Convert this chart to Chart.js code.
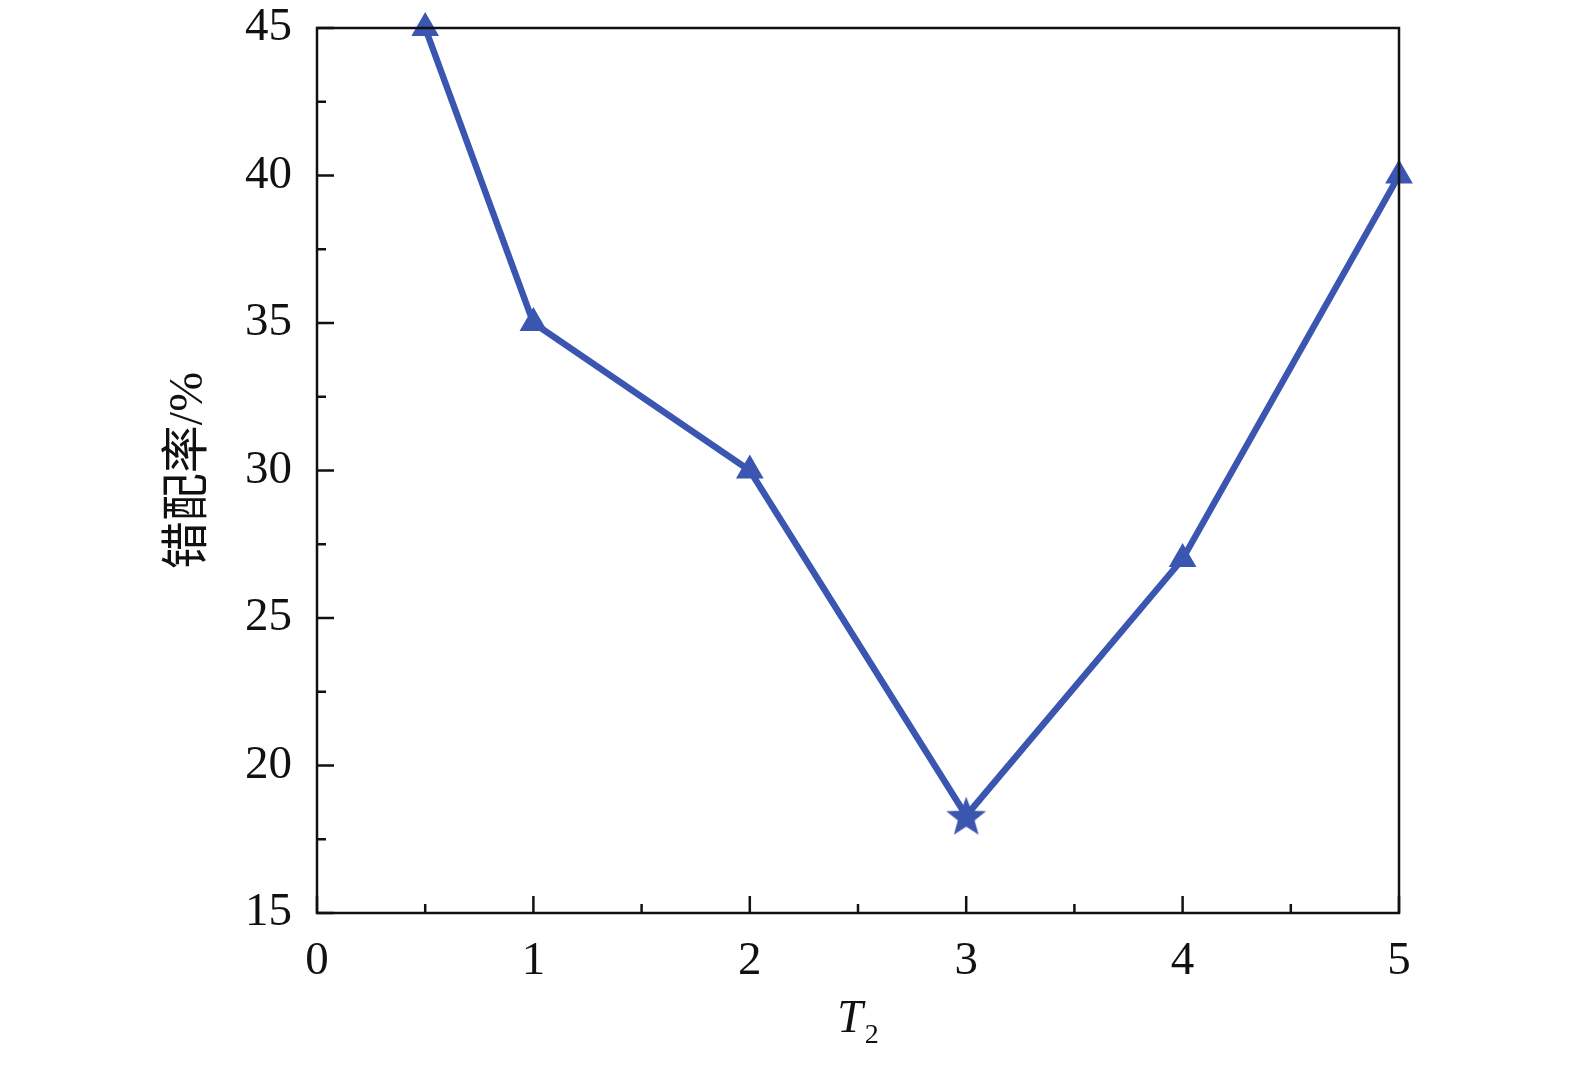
<!DOCTYPE html>
<html>
<head>
<meta charset="utf-8">
<script src="https://cdn.jsdelivr.net/npm/chart.js@4/dist/chart.umd.min.js"></script>
<style>
html,body{margin:0;padding:0;background:#fff;}
#wrap{width:1575px;height:1067px;}
</style>
</head>
<body>
<div id="wrap"><canvas id="c" width="1575" height="1067"></canvas></div>
<script>
const xValues = [0.5, 1, 2, 3, 4, 5];
const mismatchRate = [45, 35, 30, 18.3, 27, 40];
const markerKinds = ['triangle', 'triangle', 'triangle', 'star', 'triangle', 'triangle'];
const yTickLabels = [15, 20, 25, 30, 35, 40, 45];
const xTickLabels = [0, 1, 2, 3, 4, 5];
const yTitle = '错配率/%';

const COLOR = '#3B56B0';
const SERIF = '"Liberation Serif", "Times New Roman", serif';

function makeStar(size) {
  const c = document.createElement('canvas');
  c.width = size; c.height = size;
  const g = c.getContext('2d');
  const cx = size / 2, cy = size / 2 + size * 0.05;
  const R = size / 2, r = R * 0.42;
  g.beginPath();
  for (let i = 0; i < 10; i++) {
    const rad = i % 2 === 0 ? R : r;
    const a = -Math.PI / 2 + i * Math.PI / 5;
    const px = cx + rad * Math.cos(a), py = cy + rad * Math.sin(a);
    if (i === 0) g.moveTo(px, py); else g.lineTo(px, py);
  }
  g.closePath();
  g.fillStyle = COLOR;
  g.fill();
  return c;
}
const starImg = makeStar(42);

const framePlugin = {
  id: 'frame',
  afterDatasetsDraw(chart) {
    const ctx = chart.ctx;
    const a = chart.chartArea;
    ctx.save();
    ctx.strokeStyle = '#111';
    ctx.lineWidth = 2.5;
    ctx.strokeRect(a.left, a.top, a.right - a.left, a.bottom - a.top);
    const ys = chart.scales.y, xs = chart.scales.x;
    ys.ticks.forEach(t => {
      const p = ys.getPixelForValue(t.value);
      const major = Math.abs(t.value % 5) < 1e-6;
      const len = major ? 17 : 9;
      ctx.beginPath(); ctx.moveTo(a.left, p); ctx.lineTo(a.left + len, p); ctx.stroke();
    });
    xs.ticks.forEach(t => {
      const p = xs.getPixelForValue(t.value);
      const major = Math.abs(t.value % 1) < 1e-6;
      const len = major ? 17 : 9;
      ctx.beginPath(); ctx.moveTo(p, a.bottom); ctx.lineTo(p, a.bottom - len); ctx.stroke();
    });
    const cx = (a.left + a.right) / 2;
    ctx.fillStyle = '#111';
    ctx.textBaseline = 'alphabetic';
    ctx.font = 'italic 46px ' + SERIF;
    const tw = ctx.measureText('T').width;
    ctx.font = '28px ' + SERIF;
    const sw = ctx.measureText('2').width;
    const start = cx - (tw + sw + 2) / 2;
    ctx.font = 'italic 46px ' + SERIF;
    ctx.textAlign = 'left';
    ctx.fillText('T', start, 1032);
    ctx.font = '28px ' + SERIF;
    ctx.fillText('2', start + tw + 2, 1043);
    ctx.restore();
  }
};

new Chart(document.getElementById('c'), {
  type: 'line',
  data: {
    datasets: [{
      data: xValues.map((x, i) => ({ x: x, y: mismatchRate[i] })),
      borderColor: COLOR,
      backgroundColor: COLOR,
      borderWidth: 6.5,
      pointStyle: markerKinds.map(k => k === 'star' ? starImg : 'triangle'),
      pointRadius: 16,
      pointBorderWidth: 0,
      pointBackgroundColor: COLOR,
      tension: 0,
      clip: false
    }]
  },
  plugins: [framePlugin],
  options: {
    responsive: false,
    animation: false,
    devicePixelRatio: 1,
    layout: { padding: { top: 28, right: 176, left: 161, bottom: 0 } },
    plugins: { legend: { display: false }, tooltip: { enabled: false } },
    scales: {
      x: {
        type: 'linear', min: 0, max: 5,
        ticks: {
          stepSize: 0.5,
          autoSkip: false,
          maxRotation: 0,
          padding: 20,
          color: '#111',
          font: { family: SERIF, size: 47 },
          callback: v => (xTickLabels.includes(v) ? String(v) : '')
        },
        grid: { display: false, drawTicks: false },
        border: { display: false },
        afterFit(s) { s.height = 154; s.paddingLeft = 0; s.paddingRight = 0; }
      },
      y: {
        type: 'linear', min: 15, max: 45,
        ticks: {
          stepSize: 2.5,
          autoSkip: false,
          padding: 25,
          color: '#111',
          font: { family: SERIF, size: 47 },
          callback: v => (yTickLabels.includes(v) ? String(v) : '')
        },
        grid: { display: false, drawTicks: false },
        border: { display: false },
        title: {
          display: true,
          text: yTitle,
          color: '#111',
          font: { family: '"Liberation Serif", "Noto Sans CJK SC", serif', size: 48 },
          padding: { top: 0, bottom: 0 }
        },
        afterFit(s) { s.width = 156; s.paddingTop = 0; s.paddingBottom = 0; }
      }
    }
  }
});
</script>
</body>
</html>
